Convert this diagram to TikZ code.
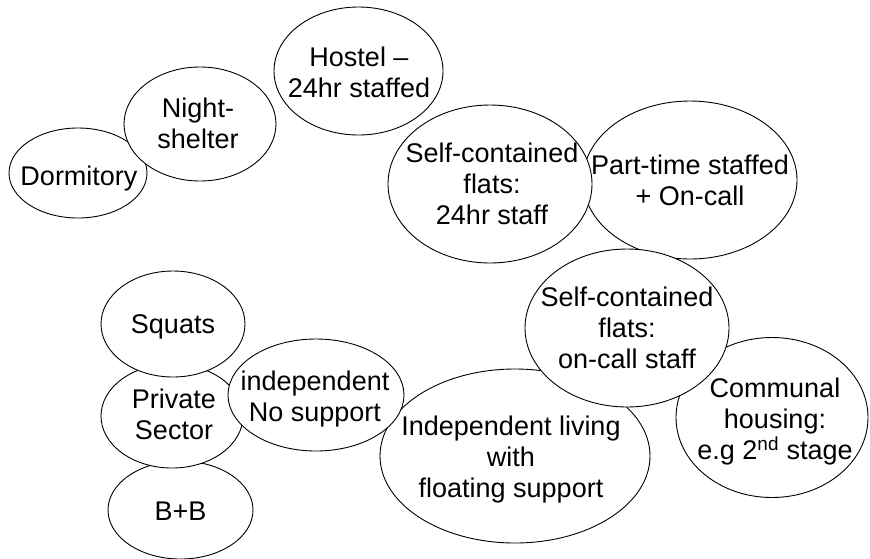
\documentclass[tikz,border=0pt]{standalone}
\usepackage{fontspec}
\setmainfont{Liberation Sans}
\begin{document}
\begin{tikzpicture}[x=1pt,y=-1pt,
  ell/.style={draw=black,fill=white,line width=0.9pt},
  lbl/.style={align=center,inner sep=0pt,font=\fontsize{27}{31}\selectfont}]
\useasboundingbox (0,0) rectangle (870,558);
% ellipse centres
\coordinate (dorm) at (78,173);
\coordinate (night) at (200,124);
\coordinate (hostel) at (358.5,71);
\coordinate (part) at (690,180);
\coordinate (sca) at (490,184);
\coordinate (comm) at (772,417.5);
\coordinate (indl) at (515,456);
\coordinate (scb) at (627,328);
\coordinate (bb) at (180.5,510);
\coordinate (priv) at (172,416);
\coordinate (squat) at (173,324);
\coordinate (indep) at (316,395);
% ellipses, back to front
\path[ell] (dorm) ellipse [x radius=69pt,y radius=45pt];
\path[ell] (night) ellipse [x radius=76pt,y radius=57pt];
\path[ell] (hostel) ellipse [x radius=84.5pt,y radius=64pt];
\path[ell] (part) ellipse [x radius=107pt,y radius=79pt];
\path[ell] (sca) ellipse [x radius=102pt,y radius=79pt];
\path[ell] (comm) ellipse [x radius=96pt,y radius=80pt];
\path[ell] (indl) ellipse [x radius=135pt,y radius=87pt];
\path[ell] (scb) ellipse [x radius=102pt,y radius=79pt];
\path[ell] (bb) ellipse [x radius=72.5pt,y radius=49pt];
\path[ell] (priv) ellipse [x radius=71pt,y radius=52pt];
\path[ell] (squat) ellipse [x radius=72pt,y radius=53pt];
\path[ell] (indep) ellipse [x radius=88pt,y radius=56pt];
% labels
\node[lbl] (dormT) at (79,178.4) {Dormitory};
\node[lbl] (nightT) at (198,123) {Night-\\shelter};
\node[lbl] (hostelT) at (359,72) {Hostel –\\24hr staffed};
\node[lbl] (scaT) at (492,184) {Self-contained\\flats:\\24hr staff};
\node[lbl] (partT) at (690,180) {Part-time staffed\\+ On-call};
\node[lbl] (scbT) at (627,328) {Self-contained\\flats:\\on-call staff};
\node[lbl] (commT) at (775,421.8) {Communal\\housing:\\e.g 2\textsuperscript{nd} stage};
\node[lbl] (indlT) at (511,460) {Independent living\\with\\floating support};
\node[lbl] (indepT) at (315,399) {independent\\No support};
\node[lbl] (squatT) at (173,327) {Squats};
\node[lbl] (privT) at (174,414.5) {Private\\Sector};
\node[lbl] (bbT) at (180.5,511.5) {B+B};
\end{tikzpicture}
\end{document}
